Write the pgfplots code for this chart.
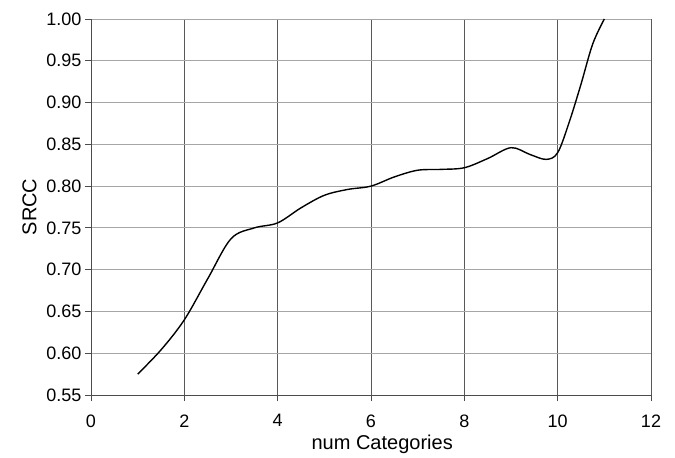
\documentclass[border=0pt]{standalone}
\usepackage{pgfplots}
\pgfplotsset{compat=1.18}
\usepackage{fontspec}
\setmainfont{Liberation Sans}
\begin{document}
\begin{tikzpicture}
\useasboundingbox (-91bp,-63bp) rectangle (584bp,395bp);
\begin{axis}[
  at={(0,0)}, anchor=origin,
  scale only axis, width=560bp, height=376bp,
  xmin=0, xmax=12, ymin=0.55, ymax=1.00,
  xtick={0,2,...,12}, ytick={0.55,0.60,...,1.001},
  axis lines*=left,
  axis line style={color=black!70, line width=0.8pt},
  tick align=outside, major tick length=6bp,
  tick style={color=black!70, line width=0.8pt},
  xmajorgrids, ymajorgrids,
  x grid style={color=black!65, line width=0.7pt},
  y grid style={color=black!35, line width=0.9pt},
  /pgf/number format/assume math mode=true,
  yticklabel style={/pgf/number format/fixed, /pgf/number format/fixed zerofill, /pgf/number format/precision=2},
  tick label style={font=\fontsize{18bp}{21bp}\selectfont},
  xticklabel style={yshift=-10bp},
  yticklabel style={xshift=0bp},
  xlabel={num Categories}, ylabel={SRCC},
  label style={font=\fontsize{20bp}{23bp}\selectfont},
  xlabel style={at={(ticklabel cs:0.52)}, anchor=north, yshift=-1bp},
  ylabel style={yshift=3bp},
  clip=false,
]
\addplot[black, line width=1.4pt, smooth, tension=0.55] coordinates {
(1.00,0.575) (1.50,0.604) (2.00,0.640) (2.50,0.689) (3.00,0.737)
(3.50,0.750) (4.00,0.756) (4.50,0.774) (5.00,0.789) (5.50,0.796)
(6.00,0.800) (6.50,0.811) (7.00,0.819) (7.50,0.820) (8.00,0.822)
(8.50,0.833) (9.00,0.846) (9.40,0.838) (9.75,0.832) (10.00,0.840)
(10.25,0.877) (10.50,0.922) (10.75,0.970) (11.00,1.000)
};
\end{axis}
\end{tikzpicture}
\end{document}
